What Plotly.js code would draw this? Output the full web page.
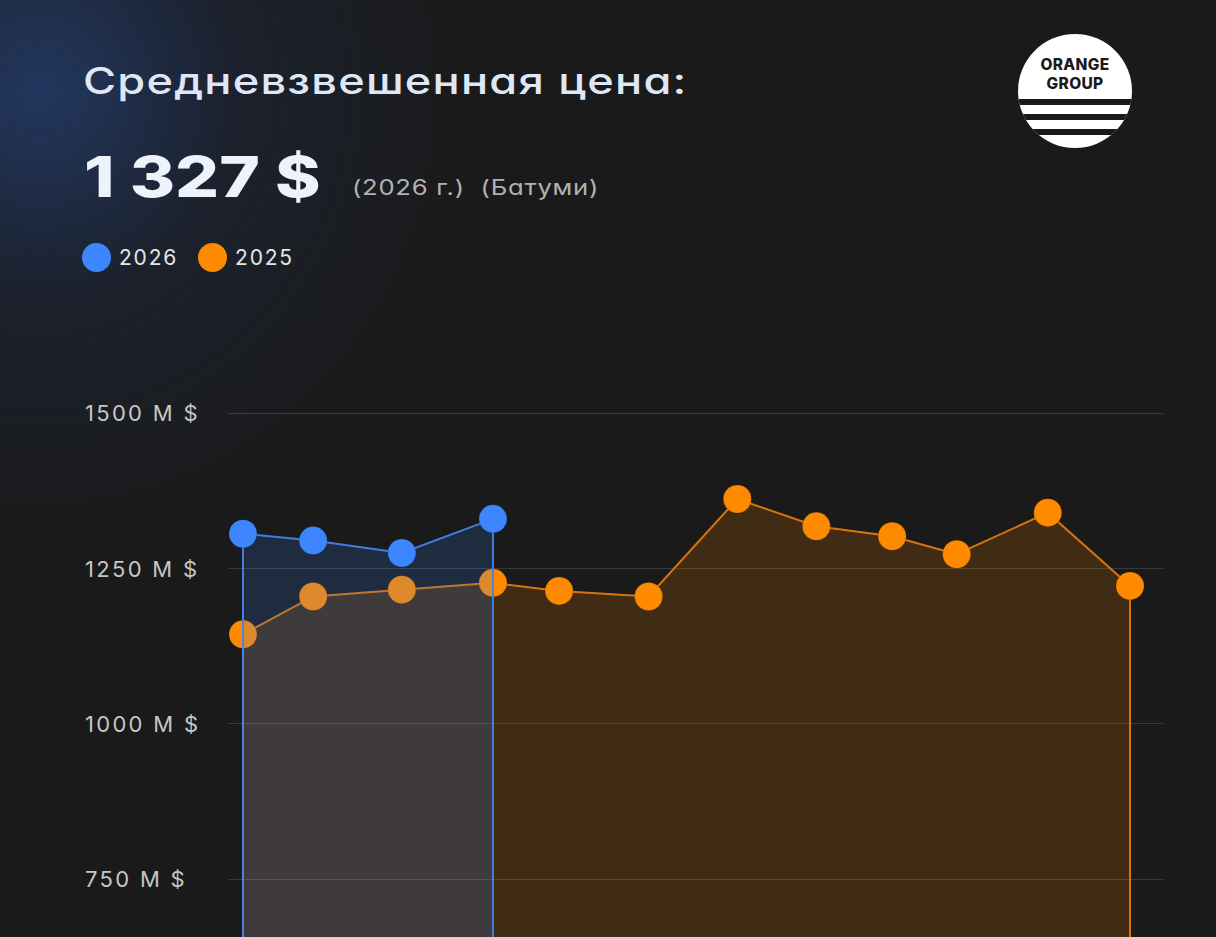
<!DOCTYPE html>
<html>
<head>
<meta charset="utf-8">
<script src="https://cdn.plot.ly/plotly-3.0.1.min.js"></script>
<style>
  html, body { margin:0; padding:0; width:1216px; height:937px; overflow:hidden; }
  body {
    background:
      radial-gradient(ellipse 440px 460px at 40px 90px, rgba(36,62,112,0.80) 0%, rgba(30,44,72,0.40) 45%, rgba(26,26,26,0) 100%),
      #1a1a1a;
    font-family: Inter, "Noto Sans", sans-serif;
    font-feature-settings: "cv11";
  }
  #chart { position:absolute; left:0; top:0; width:1216px; height:1000px; }
  .ov { position:absolute; white-space:nowrap; pointer-events:none; transform-origin:0 0; }
  #title { left:83px; top:58px; font-size:37px; font-weight:500; color:#dfe7f7; letter-spacing:1px; transform:scaleX(1.22); }
  #big { left:84px; top:143px; font-size:56px; font-weight:800; color:#eef2fb; letter-spacing:0px; transform:scaleX(1.235); }
  #sub { left:352px; top:175px; font-size:21px; color:#b2b2b2; letter-spacing:0.6px; transform:scaleX(1.22); }
  #legend { left:82px; top:243px; font-size:21px; color:#e6e6e6; display:flex; align-items:center; }
  .lg { display:flex; align-items:center; }
  .lg span { display:inline-block; letter-spacing:1.8px; }
  .dot { width:29px; height:29px; border-radius:50%; margin-right:8px; }
  #logo { position:absolute; left:1016px; top:32px; }
  .annotation-text { letter-spacing: 2.3px; }
</style>
</head>
<body>
<div id="chart"></div>
<div class="ov" id="title">Средневзвешенная цена:</div>
<div class="ov" id="big">1 327 $</div>
<div class="ov" id="sub">(2026 г.)&nbsp;&nbsp;(Батуми)</div>
<div class="ov" id="legend"></div>
<svg id="logo" width="120" height="120" viewBox="0 0 120 120">
  <defs>
    <clipPath id="cc"><circle cx="59" cy="59" r="57"/></clipPath>
  </defs>
  <g clip-path="url(#cc)">
    <rect x="0" y="0" width="120" height="120" fill="#ffffff"/>
    <rect x="0" y="67" width="120" height="6" fill="#1a1a1a"/>
    <rect x="0" y="82" width="120" height="6" fill="#1a1a1a"/>
    <rect x="0" y="97" width="120" height="6" fill="#1a1a1a"/>
  </g>
  <text x="59" y="37.5" text-anchor="middle" font-family="Inter, sans-serif" font-weight="800" font-size="15.5" fill="#1a1a1a" letter-spacing="0.3">ORANGE</text>
  <text x="59" y="56.5" text-anchor="middle" font-family="Inter, sans-serif" font-weight="800" font-size="15.5" fill="#1a1a1a" letter-spacing="0.3">GROUP</text>
</svg>
<script>
// ---- data ----
const seriesNames = ['2026', '2025'];
const seriesColors = ['#3d86ff', '#ff8a00'];
// horizontal position of each observation, in months (Jan = 1 ... Dec = 12)
const monthPos2025 = [1.00, 1.87, 2.97, 4.10, 4.92, 6.03, 7.13, 8.11, 9.05, 9.85, 10.98, 12.00];
const price2025 = [1144, 1205, 1216, 1227, 1214, 1205, 1362, 1318, 1302, 1273, 1340, 1222];
const monthPos2026 = [1.00, 1.87, 2.97, 4.10];
const price2026 = [1306, 1295, 1275, 1330];
const tickValues = [750, 1000, 1250, 1500];
const tickLabels = tickValues.map(v => v + ' M $');
const baseValue = 0;

// legend
const lg = document.getElementById('legend');
seriesNames.forEach((n, i) => {
  const d = document.createElement('div'); d.className = 'lg';
  d.style.marginRight = i === 0 ? '20px' : '0px';
  d.innerHTML = '<div class="dot" style="background:' + seriesColors[i] + '"></div><span>' + n + '</span>';
  lg.appendChild(d);
});

function areaTrace(xs, ys, lineColor, fillColor) {
  return {
    x: [xs[0]].concat(xs, [xs[xs.length - 1]]),
    y: [baseValue].concat(ys, [baseValue]),
    mode: 'lines', fill: 'toself', fillcolor: fillColor,
    line: { color: lineColor, width: 2 },
    hoverinfo: 'skip', showlegend: false
  };
}
function markerTrace(xs, ys, color, name) {
  return {
    x: xs, y: ys, mode: 'markers', name: name,
    marker: { size: 28, color: color, line: { width: 1, color: 'rgba(0,0,0,0.12)' } },
    cliponaxis: false, showlegend: false
  };
}

const traces = [
  areaTrace(monthPos2025, price2025, 'rgba(228,120,10,0.95)', 'rgba(255,138,0,0.17)'),
  markerTrace(monthPos2025, price2025, seriesColors[1], seriesNames[1]),
  areaTrace(monthPos2026, price2026, 'rgba(70,130,235,0.95)', 'rgba(58,134,255,0.17)'),
  markerTrace(monthPos2026, price2026, seriesColors[0], seriesNames[0])
];

const plotLeft = 228, plotWidth = 935;
const annotations = tickValues.map((v, i) => ({
  xref: 'paper', yref: 'y', x: (83 - plotLeft) / plotWidth, y: v,
  xanchor: 'left', yanchor: 'middle', showarrow: false,
  text: tickLabels[i],
  font: { family: 'Inter, sans-serif', size: 22, color: '#c6c6c6' }
}));

const layout = {
  width: 1216, height: 1000,
  margin: { l: plotLeft, r: 1216 - plotLeft - plotWidth, t: 380, b: 0, pad: 0 },
  paper_bgcolor: 'rgba(0,0,0,0)', plot_bgcolor: 'rgba(0,0,0,0)',
  showlegend: false,
  xaxis: { range: [0.814, 12.409], visible: false, showgrid: false, zeroline: false, fixedrange: true },
  yaxis: {
    range: [555.2, 1553.6], tickvals: tickValues, showticklabels: false,
    showgrid: true, gridcolor: 'rgba(255,255,255,0.14)', gridwidth: 1,
    zeroline: false, showline: false, ticks: '', fixedrange: true
  },
  annotations: annotations
};

Plotly.newPlot('chart', traces, layout, { staticPlot: true, displayModeBar: false });
</script>
</body>
</html>
